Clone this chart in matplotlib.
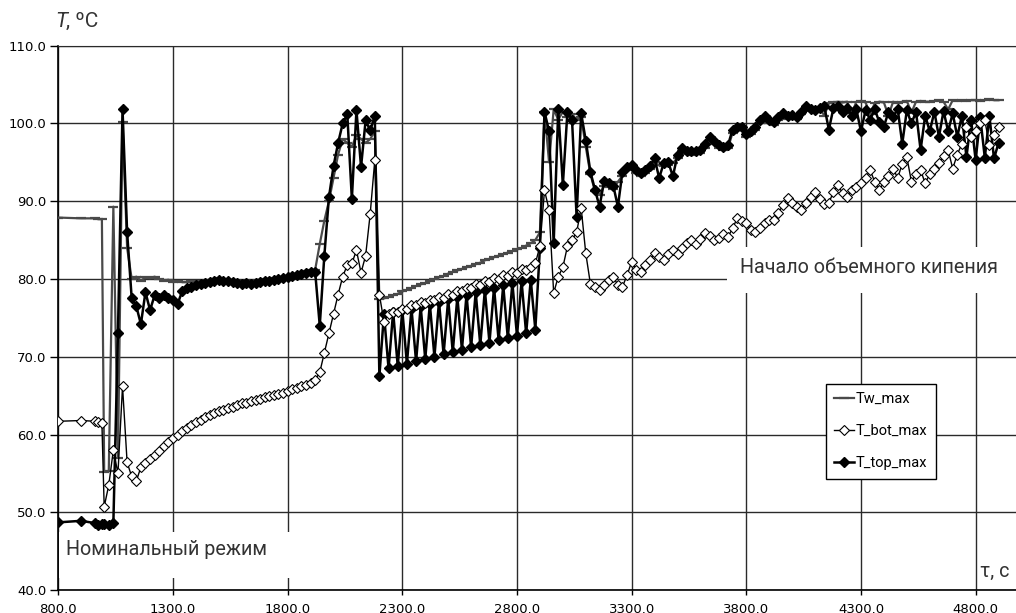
import numpy as np
import matplotlib.pyplot as plt
from matplotlib.patches import Rectangle

# readings: sparse at the start, then one every 20 s
time_s = np.concatenate([[800, 900, 960, 975, 990],
                         np.arange(1000, 4920, 20)])

tw_max = [
    87.9, 87.8, 87.8, 87.7, 87.7,
    55.2, 55.3, 89.3, 57.0, 100.2, 84.0, 80.0, 80.3, 79.8, 80.2,
    80.1, 80.3, 80.0, 79.8, 79.9, 79.6, 79.7, 79.6, 79.6, 79.7,
    79.6, 79.7, 79.8, 79.9, 80.0, 80.1, 80.0, 79.9, 79.8, 79.8,
    79.7, 79.7, 79.7, 79.8, 79.9, 80.0, 80.0, 80.1, 80.2, 80.3,
    80.4, 80.6, 80.7, 80.8, 81.0, 81.1, 81.2, 84.5, 87.5, 90.0,
    93.0, 96.0, 98.0, 97.5, 97.0, 98.5, 98.0, 97.5, 98.0, 99.0,
    77.4, 77.5, 77.7, 77.9, 78.1, 78.4, 78.6, 78.8, 79.1, 79.3,
    79.5, 79.7, 80.0, 80.2, 80.4, 80.7, 80.9, 81.1, 81.3, 81.5,
    81.7, 81.9, 82.1, 82.4, 82.6, 82.8, 83.0, 83.2, 83.4, 83.6,
    83.8, 84.0, 84.3, 84.6, 85.0, 86.0, 101.5, 95.0, 101.8, 100.5,
    101.5, 100.8, 101.2, 100.5, 100.8, 97.0, 93.5, 91.3, 90.8, 92.0,
    91.8, 91.6, 92.5, 93.3, 94.0, 94.2, 93.6, 93.2, 93.6, 94.1,
    95.1, 94.6, 94.5, 94.6, 94.9, 95.6, 96.4, 96.1, 96.0, 96.1,
    96.2, 96.9, 97.9, 97.4, 96.8, 96.6, 96.8, 98.8, 99.2, 99.1,
    98.3, 98.6, 99.2, 100.1, 100.5, 100.0, 99.8, 100.4, 100.9, 100.6,
    100.8, 100.6, 101.2, 101.9, 101.6, 101.5, 102.0, 101.0, 102.6, 102.7,
    102.8, 102.7, 102.8, 101.3, 102.8, 102.9, 102.7, 101.2, 102.6, 102.8,
    102.7, 101.0, 102.8, 102.6, 102.8, 102.9, 101.4, 102.8, 102.9, 102.8,
    102.8, 102.9, 103.0, 102.8, 101.8, 103.0, 102.9, 103.0, 102.9, 103.0,
    103.0, 102.9, 103.0, 103.1, 103.0, 103.0,
]

t_bot_max = [
    61.7, 61.8, 61.7, 61.6, 61.5,
    50.7, 53.5, 58.0, 55.0, 66.2, 56.4, 54.6, 54.0, 55.8, 56.3,
    56.8, 57.3, 57.9, 58.5, 59.1, 59.6, 60.0, 60.4, 60.8, 61.2,
    61.6, 61.9, 62.2, 62.5, 62.8, 63.0, 63.2, 63.4, 63.6, 63.8,
    64.0, 64.1, 64.3, 64.4, 64.6, 64.8, 64.9, 65.1, 65.2, 65.4,
    65.6, 65.8, 66.0, 66.2, 66.4, 66.6, 67.0, 68.0, 70.5, 73.0,
    75.5, 78.0, 80.3, 81.8, 82.0, 83.7, 80.8, 83.0, 88.4, 95.3,
    78.0, 74.5, 75.5, 75.8, 75.8, 76.2, 76.2, 76.6, 76.6, 77.0,
    76.9, 77.3, 77.3, 77.7, 77.6, 78.1, 78.0, 78.5, 78.4, 78.9,
    78.8, 79.3, 79.2, 79.7, 79.6, 80.1, 80.0, 80.5, 80.4, 80.9,
    80.8, 81.3, 81.2, 81.6, 82.0, 84.2, 91.4, 88.9, 78.2, 80.3,
    81.5, 84.2, 85.0, 86.0, 89.1, 83.3, 79.4, 79.0, 78.6, 79.2,
    79.9, 80.3, 79.2, 79.0, 80.5, 82.2, 81.2, 80.9, 81.8, 82.5,
    83.3, 82.8, 82.5, 83.2, 83.7, 83.2, 84.0, 84.6, 85.0, 84.5,
    85.2, 85.9, 85.5, 85.0, 85.3, 85.8, 85.4, 86.5, 87.8, 87.4,
    87.2, 86.3, 86.0, 86.6, 87.2, 87.6, 87.6, 88.5, 89.5, 90.4,
    89.8, 89.3, 88.9, 89.8, 90.5, 91.2, 90.3, 89.6, 89.8, 91.2,
    92.1, 91.0, 90.6, 91.5, 91.8, 92.3, 93.0, 94.0, 92.5, 91.4,
    92.5, 93.2, 94.2, 93.0, 94.8, 95.7, 92.5, 93.5, 94.0, 92.3,
    93.5, 94.2, 94.9, 95.8, 96.6, 94.2, 96.0, 97.4, 99.6, 98.3,
    99.0, 100.0, 100.4, 97.2, 98.5, 99.6,
]

t_top_max = [
    48.7, 48.9, 48.6, 48.4, 48.5,
    48.5, 48.4, 48.6, 73.0, 101.8, 86.0, 77.5, 76.5, 74.2, 78.3,
    76.0, 77.9, 77.5, 78.0, 77.6, 77.3, 76.8, 78.4, 78.8, 79.0,
    79.2, 79.4, 79.5, 79.6, 79.8, 79.9, 79.8, 79.7, 79.6, 79.5,
    79.4, 79.5, 79.4, 79.5, 79.6, 79.7, 79.7, 79.9, 80.0, 80.1,
    80.2, 80.4, 80.5, 80.6, 80.8, 80.9, 80.9, 74.0, 83.0, 90.5,
    94.5, 97.5, 100.0, 101.2, 90.3, 101.7, 94.4, 100.4, 99.1, 101.0,
    67.5, 75.5, 68.5, 75.8, 68.8, 76.0, 69.1, 76.2, 69.4, 76.5,
    69.7, 76.8, 70.0, 77.1, 70.3, 77.4, 70.6, 77.7, 70.9, 78.0,
    71.2, 78.3, 71.5, 78.6, 71.8, 78.9, 72.1, 79.2, 72.4, 79.5,
    72.7, 79.7, 73.0, 79.9, 73.5, 84.0, 101.5, 99.0, 84.6, 101.8,
    92.1, 101.5, 100.5, 88.0, 101.3, 97.8, 93.8, 91.5, 89.3, 92.6,
    92.3, 92.0, 89.3, 93.8, 94.4, 94.6, 94.0, 93.6, 94.0, 94.5,
    95.5, 93.0, 94.9, 95.0, 93.2, 96.0, 96.8, 96.5, 96.4, 96.5,
    96.6, 97.3, 98.3, 97.8, 97.2, 97.0, 97.2, 99.2, 99.6, 99.5,
    98.7, 99.0, 99.6, 100.5, 100.9, 100.4, 100.2, 100.8, 101.3, 101.0,
    101.1, 100.8, 101.5, 102.2, 101.8, 101.7, 102.0, 102.2, 99.2, 102.0,
    102.2, 101.5, 102.0, 101.0, 101.8, 99.0, 101.7, 100.5, 101.8, 100.2,
    99.6, 101.5, 100.8, 101.9, 97.4, 101.7, 100.0, 101.5, 96.6, 101.0,
    99.0, 101.5, 98.3, 101.6, 99.0, 101.3, 98.3, 101.0, 95.7, 100.5,
    95.3, 100.8, 95.6, 101.0, 95.5, 97.5,
]

x_ticks = np.arange(800, 4801, 500)
y_ticks = np.arange(40, 111, 10)

txt_font = ['Roboto', 'DejaVu Sans']

fig = plt.figure(figsize=(10.16, 6.13), dpi=100)
ax = fig.add_axes([0.0574, 0.0375, 0.9426, 0.8879])

ax.set_xlim(800, 4976)
ax.set_ylim(40, 110)
ax.set_xticks(x_ticks)
ax.set_yticks(y_ticks)
ax.set_xticklabels(['%.1f' % v for v in x_ticks])
ax.set_yticklabels(['%.1f' % v for v in y_ticks])
ax.tick_params(axis='x', length=3.6, width=1, pad=6.0, labelsize=9.5)
ax.tick_params(axis='y', length=6, width=1, pad=2.5, labelsize=9.5)

ax.set_axisbelow(True)
ax.grid(True, color='#2a2a2a', lw=1.0)
ax.spines['right'].set_visible(False)
ax.spines['top'].set_color('#2a2a2a')
ax.spines['left'].set_linewidth(1.2)
ax.spines['bottom'].set_linewidth(1.2)

# white boxes behind the two notes cut the grid
ax.add_patch(Rectangle((801, 41.5), 1053, 6.0, facecolor='white',
                       edgecolor='none', zorder=1.5))
ax.add_patch(Rectangle((3716, 78.2), 1262, 5.9, facecolor='white',
                       edgecolor='none', zorder=1.5))

l_tw, = ax.plot(time_s, tw_max, color='#4a4a4a', lw=1.6, marker='_',
                ms=7, mew=1.6, zorder=3, label='Tw_max')
l_top, = ax.plot(time_s, t_top_max, color='black', lw=1.8, marker='D',
                 ms=5.2, mfc='black', mec='black', zorder=4,
                 label='T_top_max')
l_bot, = ax.plot(time_s, t_bot_max, color='black', lw=1.0, marker='D',
                 ms=5.2, mfc='white', mec='black', mew=0.8, zorder=5,
                 label='T_bot_max')

leg = ax.legend(handles=[l_tw, l_bot, l_top], loc='upper left',
                bbox_to_anchor=(0.8016, 0.3785), borderaxespad=0,
                frameon=True, fancybox=False, edgecolor='black',
                framealpha=1, borderpad=0.55, handlelength=1.4,
                handletextpad=0.1, labelspacing=1.25,
                prop={'family': txt_font, 'size': 10.5})
leg.get_frame().set_linewidth(1.0)
leg.set_zorder(6)

ax.text(833, 44.5, 'Номинальный режим', fontsize=14.2, color='#333333',
        family=txt_font, va='baseline', zorder=6)
ax.text(3772, 80.8, 'Начало объемного кипения', fontsize=14.2,
        color='#333333', family=txt_font, va='baseline', zorder=6)
ax.text(4819, 41.7, 'τ, с', fontsize=14.2, color='#333333',
        family=txt_font, va='baseline', zorder=6)

fig.text(55 / 1016, 1 - 27 / 613, 'T', fontsize=15, style='italic',
         color='#333333', family=txt_font, va='baseline')
fig.text(66 / 1016, 1 - 27 / 613, ', ºC', fontsize=15, color='#333333',
         family=txt_font, va='baseline')

fig.savefig('out.png', dpi=100)
